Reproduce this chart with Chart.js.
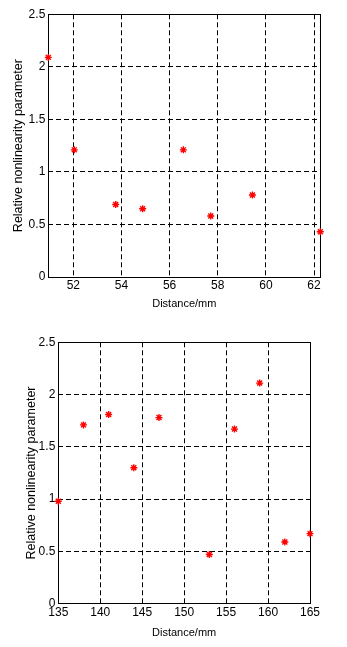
<!DOCTYPE html>
<html>
<head>
<meta charset="utf-8">
<script src="https://cdn.jsdelivr.net/npm/chart.js@4"></script>
<style>
  html, body { margin: 0; padding: 0; background: #fff; }
  canvas { display: block; }
</style>
</head>
<body>
<canvas id="top" width="347" height="320"></canvas>
<canvas id="bottom" width="347" height="327"></canvas>
<script>
// top panel
var distTop = [50.96, 52.04, 53.76, 54.88, 56.57, 57.71, 59.44, 62.26];
var paramTop = [2.09, 1.21, 0.69, 0.65, 1.21, 0.58, 0.78, 0.43];
var xTicksTop = [52, 54, 56, 58, 60, 62];

// bottom panel
var distBottom = [135, 138, 141, 144, 147, 153, 156, 159, 162, 165];
var paramBottom = [0.98, 1.71, 1.81, 1.30, 1.78, 0.47, 1.67, 2.11, 0.59, 0.67];
var xTicksBottom = [135, 140, 145, 150, 155, 160, 165];

var yTicks = [0, 0.5, 1, 1.5, 2, 2.5];

// MATLAB-style box round the axes, drawn under the markers
var boxPlugin = {
  id: "box",
  beforeDatasetsDraw: function (chart) {
    var a = chart.chartArea;
    var ctx = chart.ctx;
    ctx.save();
    ctx.strokeStyle = "#000";
    ctx.lineWidth = 1;
    ctx.setLineDash([]);
    ctx.strokeRect(Math.round(a.left) + 0.5, Math.round(a.top) + 0.5,
      Math.round(a.right - a.left), Math.round(a.bottom - a.top));
    ctx.restore();
  }
};

function makeChart(id, xs, ys, xTicks, lay) {
  var pts = xs.map(function (x, i) { return { x: x, y: ys[i] }; });
  var family = "'Liberation Sans', Arial, sans-serif";
  var tickFont = { family: family, size: 12 };

  return new Chart(document.getElementById(id), {
    type: "scatter",
    data: {
      datasets: [{
        data: pts,
        pointStyle: "star",
        pointRadius: 3.5,
        pointBorderWidth: 1.4,
        borderColor: "#ff0000",
        backgroundColor: "#ff0000",
        clip: false
      }]
    },
    options: {
      responsive: false,
      animation: false,
      layout: { padding: lay.padding },
      plugins: { legend: { display: false }, tooltip: { enabled: false } },
      scales: {
        x: {
          type: "linear",
          min: xs[0],
          max: xs[xs.length - 1],
          afterBuildTicks: function (s) {
            s.ticks = xTicks.map(function (v) { return { value: v }; });
          },
          afterFit: function (s) { s.height = lay.xHeight; },
          ticks: {
            color: "#000",
            font: tickFont,
            padding: lay.xTickPad,
            maxRotation: 0,
            autoSkip: false,
            callback: function (v) { return String(v); }
          },
          grid: { color: "#000", lineWidth: 1, drawTicks: false },
          border: { display: false, dash: [5, 3] },
          title: {
            display: true,
            text: "Distance/mm",
            color: "#000",
            font: { family: family, size: 11 },
            padding: { top: 0, bottom: lay.xTitlePad }
          }
        },
        y: {
          type: "linear",
          min: 0,
          max: 2.5,
          afterBuildTicks: function (s) {
            s.ticks = yTicks.map(function (v) { return { value: v }; });
          },
          afterFit: function (s) { s.width = lay.yWidth; },
          ticks: {
            color: "#000",
            font: tickFont,
            padding: 3,
            autoSkip: false,
            callback: function (v) { return String(v); }
          },
          grid: { color: "#000", lineWidth: 1, drawTicks: false },
          border: { display: false, dash: [5, 3] },
          title: {
            display: true,
            text: "Relative nonlinearity parameter",
            color: "#000",
            font: { family: family, size: 12.5 },
            padding: { top: lay.yTitlePad, bottom: 0 }
          }
        }
      }
    },
    plugins: [boxPlugin]
  });
}

makeChart("top", distTop, paramTop, xTicksTop, {
  padding: { left: 0, right: 26.7, top: 14.3, bottom: 0 },
  yWidth: 48.3,
  xHeight: 43,
  xTickPad: 1.5,
  xTitlePad: 9,
  yTitlePad: 11
});

makeChart("bottom", distBottom, paramBottom, xTicksBottom, {
  padding: { left: 0, right: 37, top: 22.3, bottom: 0 },
  yWidth: 58.3,
  xHeight: 43.3,
  xTickPad: 2,
  xTitlePad: 7.5,
  yTitlePad: 24.5
});
</script>
</body>
</html>
